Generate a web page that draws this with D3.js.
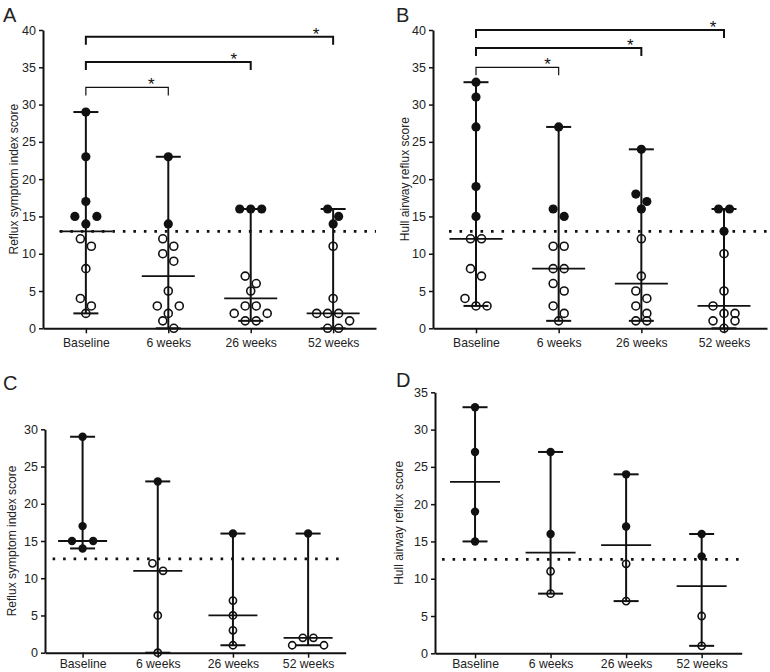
<!DOCTYPE html>
<html>
<head>
<meta charset="utf-8">
<script src="https://cdn.jsdelivr.net/npm/d3@7"></script>
<style>
  html, body { margin: 0; padding: 0; background: #fff; }
  svg { display: block; font-family: "Liberation Sans", Arial, sans-serif; }
</style>
</head>
<body>
<svg id="chart" width="770" height="672"></svg>
<script>
// ---------------- DATA ----------------
const categories = ["Baseline", "6 weeks", "26 weeks", "52 weeks"];

// Panel A: Reflux symptom index, all patients
const rsiAllFilled = [[29, 23, 17, 15, 15, 14], [23, 14], [16, 16, 16], [16, 15, 14]];
const rsiAllOpen   = [[12, 11, 8, 4, 3, 2], [12, 11, 10, 9, 5, 3, 3, 2, 1, 0], [7, 6, 5, 3, 3, 2, 2, 1, 1], [11, 4, 2, 2, 2, 1, 0, 0]];

// Panel B: Hull airway reflux score, all patients
const hullAllFilled = [[33, 31, 27, 19, 15], [27, 16, 15], [24, 18, 17, 16], [16, 16, 13]];
const hullAllOpen   = [[12, 12, 8, 7, 4, 3, 3], [11, 11, 8, 8, 6, 5, 3, 2, 1], [12, 7, 5, 4, 3, 2, 1, 1], [10, 5, 3, 2, 2, 1, 1, 0]];

// Panel C: Reflux symptom index, subgroup
const rsiSubFilled = [[29, 17, 15, 15, 14], [23], [16], [16]];
const rsiSubOpen   = [[], [12, 11, 5, 0], [7, 5, 3, 1], [2, 2, 1, 1]];

// Panel D: Hull airway reflux score, subgroup
const hullSubFilled = [[33, 27, 19, 15], [27, 16], [24, 17], [16, 13]];
const hullSubOpen   = [[], [11, 8], [12, 7], [5, 1]];

// Y tick labels (per panel) and normal-threshold lines
const yTicksAB = [0, 5, 10, 15, 20, 25, 30, 35, 40];
const yTicksC  = [0, 5, 10, 15, 20, 25, 30];
const yTicksD  = [0, 5, 10, 15, 20, 25, 30, 35];
const thresholdAB = 13;
const thresholdCD = 12.6;

// Significance brackets (from category index, to category index, level in score units)
const bracketsA = [[0, 1, 32.3], [0, 2, 35.7], [0, 3, 39.1]];
const bracketsB = [[0, 1, 35.0], [0, 2, 37.6], [0, 3, 40.0]];
const bracketLabel = "*";

const yTitleRSI  = "Reflux symptom index score";
const yTitleHull = "Hull airway reflux score";

// ---------------- DRAW ----------------
const svg = d3.select("#chart");
const ink = "#111";
const textCol = "#222";

// symmetric slot order for a row of n overlapping points (in half-spacing units)
function slotOrder(n) {
  if (n === 1) return [0];
  if (n === 2) return [-1, 1];
  if (n === 3) return [-2, 2, 0];
  if (n === 4) return [-1, 1, -3, 3];
  const out = [];
  for (let i = 0; i < n; i++) out.push((i - (n - 1) / 2) * 2);
  return out;
}

function panel(o) {
  const g = svg.append("g");
  const x = d3.scalePoint().domain(categories).range([o.x0, o.x1]).padding(o.pad);
  const yMax = d3.max(o.ticks);
  const y = d3.scaleLinear().domain([0, yMax]).range([o.yb, o.yt]);

  // panel letter
  g.append("text").attr("x", o.lx).attr("y", o.ly)
    .attr("font-size", 20).attr("fill", textCol).text(o.letter);

  // y axis
  const ya = g.append("g").attr("transform", `translate(${o.x0},0)`)
    .call(d3.axisLeft(y).tickValues(o.ticks).tickSize(4).tickSizeOuter(0).tickPadding(3));
  ya.select(".domain").attr("stroke", ink).attr("stroke-width", 2);
  ya.selectAll(".tick line").attr("stroke", ink).attr("stroke-width", 1.5);
  ya.selectAll(".tick text").attr("font-size", 12.5).attr("fill", textCol)
    .attr("font-family", "Liberation Sans, Arial, sans-serif");

  // x axis
  const xa = g.append("g").attr("transform", `translate(0,${o.yb})`)
    .call(d3.axisBottom(x).tickSize(5).tickSizeOuter(0).tickPadding(o.xPad));
  xa.select(".domain").attr("stroke", ink).attr("stroke-width", 2);
  xa.selectAll(".tick line").attr("stroke", ink).attr("stroke-width", 1.5);
  xa.selectAll(".tick text").attr("font-size", 12.2).attr("fill", textCol)
    .attr("font-family", "Liberation Sans, Arial, sans-serif");

  // y title
  g.append("text")
    .attr("transform", `translate(${o.tx},${(o.yt + o.yb) / 2}) rotate(-90)`)
    .attr("text-anchor", "middle").attr("font-size", 12).attr("fill", textCol)
    .text(o.title);

  // threshold dotted line
  g.append("line")
    .attr("x1", x(categories[0]) - o.dotLead).attr("x2", o.x1)
    .attr("y1", y(o.threshold)).attr("y2", y(o.threshold))
    .attr("stroke", ink).attr("stroke-width", 2.6)
    .attr("stroke-dasharray", "2.6 7.9");

  // brackets
  (o.brackets || []).forEach((b, i) => {
    const xa1 = x(categories[b[0]]), xb1 = x(categories[b[1]]), yy = y(b[2]);
    const sw = i === 0 ? 1.2 : 2;
    g.append("path")
      .attr("d", `M${xa1},${yy + 8}V${yy}H${xb1}V${yy + 8}`)
      .attr("fill", "none").attr("stroke", ink).attr("stroke-width", sw);
    g.append("text").attr("x", xb1 - o.starOff).attr("y", yy + 3)
      .attr("text-anchor", "middle").attr("font-size", 17).attr("fill", ink)
      .text(bracketLabel);
  });

  // groups
  categories.forEach((c, i) => {
    const pts = o.filled[i].map(v => ({ v, f: true })).concat(o.open[i].map(v => ({ v, f: false })));
    const vals = pts.map(p => p.v);
    const cx = x(c);
    const mn = d3.min(vals), mx = d3.max(vals), md = d3.median(vals);

    // range line + caps + median
    g.append("line").attr("x1", cx).attr("x2", cx).attr("y1", y(mn)).attr("y2", y(mx))
      .attr("stroke", ink).attr("stroke-width", 2);
    [mn, mx].forEach(v => g.append("line")
      .attr("x1", cx - o.cap).attr("x2", cx + o.cap).attr("y1", y(v)).attr("y2", y(v))
      .attr("stroke", ink).attr("stroke-width", 2));
    g.append("line")
      .attr("x1", cx - o.med).attr("x2", cx + o.med).attr("y1", y(md)).attr("y2", y(md))
      .attr("stroke", ink).attr("stroke-width", 1.8);

    // row-based symmetric scatter
    const sorted = pts.slice().sort((a, b) => b.v - a.v);
    const rows = [];
    sorted.forEach(p => {
      const last = rows[rows.length - 1];
      if (last && (y(p.v) - y(last[0].v)) < o.r * 2 + 0.2) last.push(p);
      else rows.push([p]);
    });
    const placed = [];
    rows.forEach(row => {
      const slots = slotOrder(row.length);
      row.forEach((p, k) => placed.push({ x: slots[k] * o.half, y: y(p.v), f: p.f }));
    });
    g.selectAll(null).data(placed).join("circle")
      .attr("cx", d => cx + d.x).attr("cy", d => d.y)
      .attr("r", d => d.f ? o.r : o.r - 0.6)
      .attr("fill", d => d.f ? ink : "none")
      .attr("stroke", ink).attr("stroke-width", d => d.f ? 0 : 1.6);
  });
}

panel({ letter: "A", lx: 3, ly: 22, x0: 43, x1: 376, pad: 0.52, yt: 30, yb: 328.3, ticks: yTicksAB,
  filled: rsiAllFilled, open: rsiAllOpen, threshold: thresholdAB, title: yTitleRSI, tx: 17.5,
  brackets: bracketsA, starOff: 17, r: 4.6, half: 5.5, cap: 12.5, med: 26.5, dotLead: 26, xPad: 5 });
panel({ letter: "B", lx: 396, ly: 22, x0: 433, x1: 767, pad: 0.52, yt: 30, yb: 328.3, ticks: yTicksAB,
  filled: hullAllFilled, open: hullAllOpen, threshold: thresholdAB, title: yTitleHull, tx: 409,
  brackets: bracketsB, starOff: 11, r: 4.6, half: 5.5, cap: 12.5, med: 26.5, dotLead: 27, xPad: 5 });
panel({ letter: "C", lx: 3, ly: 390, x0: 45, x1: 345.7, pad: 0.5, yt: 429.3, yb: 652.7, ticks: yTicksC,
  filled: rsiSubFilled, open: rsiSubOpen, threshold: thresholdCD, title: yTitleRSI, tx: 16,
  brackets: [], r: 4.2, half: 5.3, cap: 12.5, med: 24.5, dotLead: 30, xPad: 2 });
panel({ letter: "D", lx: 396, ly: 387, x0: 435, x1: 741.7, pad: 0.53, yt: 392.3, yb: 653.3, ticks: yTicksD,
  filled: hullSubFilled, open: hullSubOpen, threshold: thresholdCD, title: yTitleHull, tx: 403,
  brackets: [], r: 4.2, half: 5.3, cap: 12.5, med: 25, dotLead: 33, xPad: 1.5 });
</script>
</body>
</html>
